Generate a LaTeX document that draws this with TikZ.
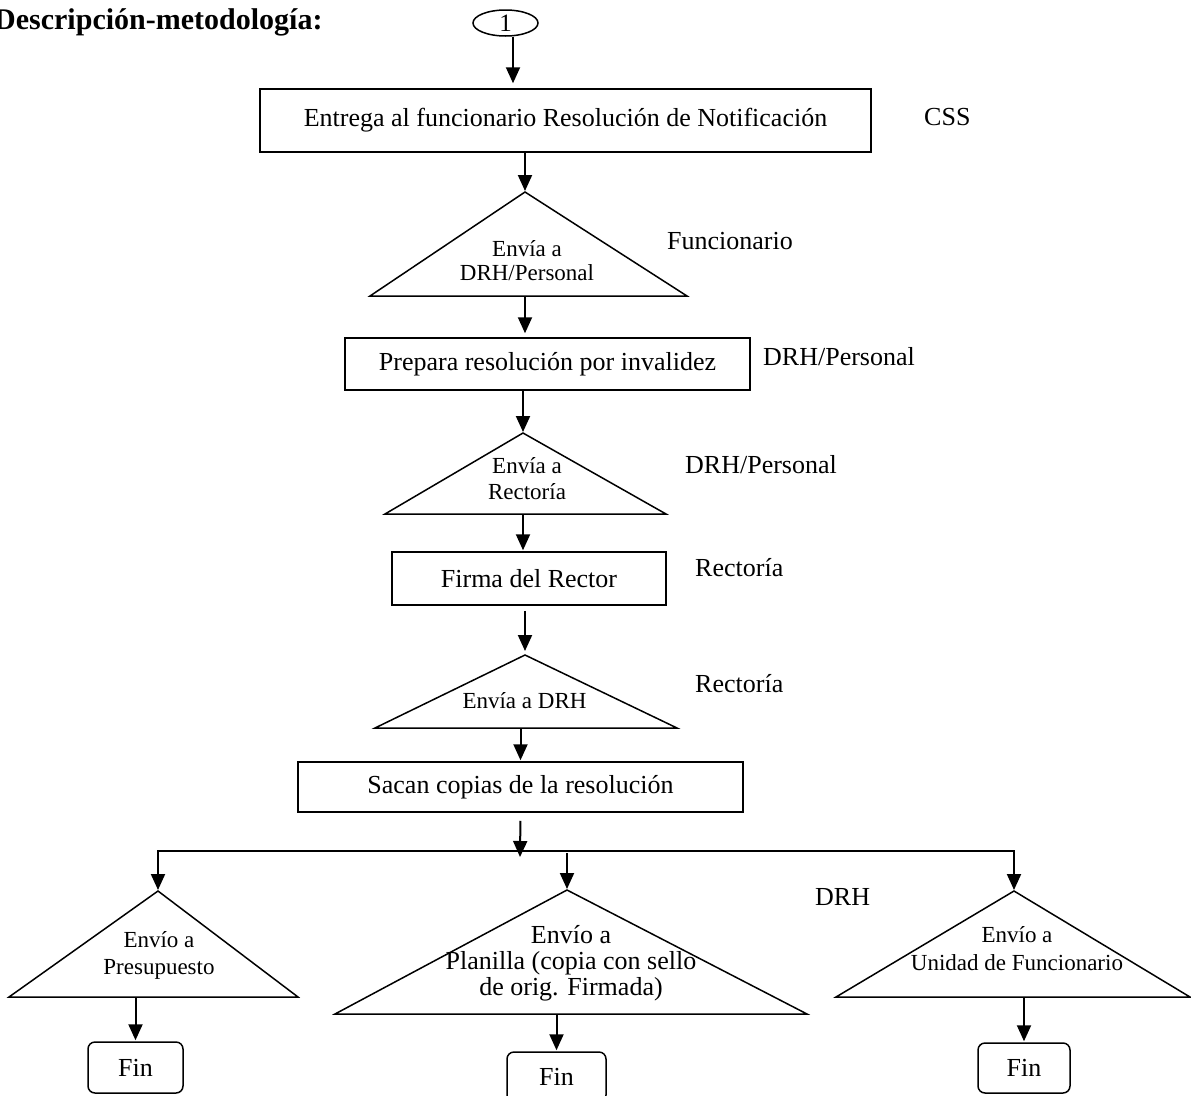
\documentclass[tikz,border=0pt]{standalone}
\usepackage{fontspec}
\setmainfont{Liberation Serif}
\usetikzlibrary{arrows.meta,shapes.geometric}

\begin{document}
\begin{tikzpicture}[
    x=1pt, y=-1pt,
    >={Triangle[length=16pt,width=14pt]},
    box/.style={draw, line width=1.5pt, inner sep=0pt, font=\fontsize{26}{30}\selectfont},
    endbox/.style={box, rounded corners=7pt},
    tri/.style={draw, line width=1.5pt, line join=miter},
    tritext/.style={anchor=base, align=center, inner sep=0pt, font=\fontsize{23}{27}\selectfont},
    who/.style={anchor=base west, inner sep=0pt, font=\fontsize{26}{30}\selectfont},
    arrow/.style={->, line width=2pt, shorten >=1pt}
]

\useasboundingbox (0,0) rectangle (1191,1095);

% Title and start mark
\node[anchor=base west, inner sep=0pt, font=\fontsize{30}{34}\selectfont\bfseries] (title) at (-6,29) {Descripción-metodología:};
\node[draw, ellipse, line width=1.5pt, minimum width=65pt, minimum height=26pt, inner sep=0pt,
    font=\fontsize{25}{28}\selectfont] (start) at (505.5,23) {1};

% Process boxes
\node[box, minimum width=611pt, minimum height=63pt] (box1) at (565.5,120.5) {Entrega al funcionario Resolución de Notificación};
\node[box, minimum width=405pt, minimum height=52pt] (box2) at (547.5,364) {Prepara resolución por invalidez};
\node[box, minimum width=274pt, minimum height=53pt] (box3) at (529,578.5) {Firma del Rector};
\node[box, minimum width=445pt, minimum height=50pt] (box4) at (520.5,787) {Sacan copias de la resolución};

% End boxes
\node[endbox, minimum width=95pt, minimum height=51pt] (fin1) at (135.5,1067.5) {Fin};
\node[endbox, minimum width=99pt, minimum height=50pt] (fin2) at (556.5,1077) {Fin};
\node[endbox, minimum width=92pt, minimum height=50pt] (fin3) at (1024,1068) {Fin};

% Triangles: number / apex x / apex y / base left / base right / base y
\foreach \n/\ax/\ay/\lx/\rx/\by in {1/525/192/370/687/296, 2/523/433/385/666/514,
    3/525/655/375/677/728, 4/158/891/9/298/997, 5/567/890/335/807/1014, 6/1014/891/836/1190/997} {
    \coordinate (tip\n) at (\ax,\ay);
    \coordinate (bl\n) at (\lx,\by);
    \coordinate (br\n) at (\rx,\by);
    \draw[tri] (tip\n) -- (br\n) -- (bl\n) -- cycle;
}

% Triangle texts (placed at the baseline of the last line)
\node[tritext, font=\fontsize{23}{24}\selectfont] (send1) at (527,280) {Envía a\\DRH/Personal};
\node[tritext, font=\fontsize{23}{26}\selectfont] (send2) at (527,499) {Envía a\\Rectoría};
\node[tritext] (send3) at (524.5,708) {Envía a DRH};
\node[tritext] (send4) at (159,974) {Envío a\\Presupuesto};
\node[tritext, font=\fontsize{26}{26}\selectfont] (send5) at (571,995) {Envío a\\Planilla (copia con sello\\de orig. Firmada)};
\node[tritext, font=\fontsize{23}{28}\selectfont] (send6) at (1017,970) {Envío a\\Unidad de Funcionario};

% Responsible units
\node[who] (whoA) at (924,125) {CSS};
\node[who] (whoB) at (667,249) {Funcionario};
\node[who] (whoC) at (763,365) {DRH/Personal};
\node[who] (whoD) at (685,473) {DRH/Personal};
\node[who] (whoE) at (695,576) {Rectoría};
\node[who] (whoF) at (695,692) {Rectoría};
\node[who] (whoG) at (815,905) {DRH};

% Main flow
\draw[arrow, shorten >=5pt] ([xshift=7.5pt]start.south) -- ([xshift=7.5pt]start.south |- box1.north);
\draw[arrow] (box1.south -| tip1) -- (tip1);
\draw[arrow, shorten >=4pt] (bl1 -| tip1) -- (box2.north -| tip1);
\draw[arrow] (box2.south -| tip2) -- (tip2);
\draw[arrow] (bl2 -| tip2) -- (box3.north -| tip2);
\draw[arrow, shorten <=5pt, shorten >=4pt] (box3.south -| tip3) -- (tip3);
\draw[arrow] (bl3 -| box4.north) -- (box4.north);

% Split into three
\coordinate (fork) at (520,858);
\coordinate (bar) at (0,851);
\draw[arrow, shorten <=8pt] (box4.south) -- (fork);
\draw[arrow] (bar -| tip6) -| (tip4);
\draw[arrow] (bar -| tip4) -| (tip6);
\draw[arrow, shorten <=2pt] (bar -| tip5) -- (tip5);

% To the end boxes
\draw[arrow] (bl4 -| fin1.north) -- (fin1.north);
\draw[arrow] (bl5 -| fin2.north) -- (fin2.north);
\draw[arrow] (bl6 -| fin3.north) -- (fin3.north);

\end{tikzpicture}
\end{document}
